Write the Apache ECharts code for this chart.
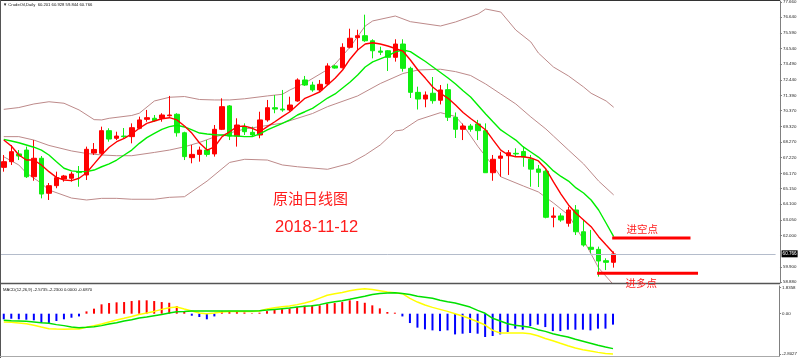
<!DOCTYPE html>
<html><head><meta charset="utf-8">
<script src="https://cdn.jsdelivr.net/npm/echarts@6/dist/echarts.min.js"></script>
<style>html,body{margin:0;padding:0;background:#fff;overflow:hidden}#c{width:800px;height:358px}</style>
</head><body><div id="c"></div>
<script>
const slotCount = 103;
const symbolTitle = '\u25BC CrudeOil,Daily  60.201 60.928 59.844 60.766';
const macdTitle = 'MACD(12,26,9) -2.5735 -2.2300 0.0000 -0.6870';
const chartTitle = '原油日线图';
const chartDate = '2018-11-12';

const opens = [66.57,66.95,67.47,67.73,65.94,67.18,64.83,65.34,65.79,65.84,
66.29,66.06,67.53,67.51,69.03,68.52,68.67,68.63,69.19,69.79,
69.86,69.86,70.03,70.13,68.89,67.22,67.44,67.73,67.47,69.12,
70.69,68.67,69.30,68.92,68.74,69.75,70.57,70.48,70.42,71.02,
72.43,72.09,71.76,72.16,73.37,73.25,74.62,75.27,75.40,75.06,
74.37,74.39,73.95,74.84,73.21,71.60,71.15,71.54,71.07,71.78,
69.93,69.12,69.34,69.48,69.03,66.21,67.18,67.35,67.51,67.63,
67.12,66.46,66.31,63.22,63.31,62.82,63.71,62.25,61.21,61.07,
60.31,60.201];
const closes = [66.95,67.62,67.33,65.94,67.18,64.78,65.34,65.88,65.99,66.12,
66.22,67.78,67.77,69.03,68.47,68.67,68.63,69.23,69.75,69.90,
69.70,70.08,70.08,68.89,67.29,67.44,67.73,67.44,69.12,70.64,
68.67,69.41,68.96,68.74,69.75,70.57,70.48,70.42,70.75,72.43,
72.09,71.76,72.14,73.37,73.23,74.62,75.23,75.40,75.06,74.39,
74.29,73.95,74.84,73.21,71.60,71.15,71.42,71.04,71.76,69.93,
69.12,69.34,69.12,69.03,66.21,67.11,67.33,67.55,67.47,67.26,
66.45,66.24,63.22,63.31,63.04,63.71,62.25,61.36,61.07,60.29,
60.20,60.766];
const lows = [66.28,66.73,67.06,65.86,65.67,64.49,64.38,65.17,65.61,65.61,
65.27,65.72,67.40,67.40,68.29,68.40,68.54,68.18,69.12,69.63,
69.63,69.63,69.97,68.63,67.06,66.84,66.95,67.29,67.29,69.07,
68.40,67.96,68.74,68.63,68.52,69.63,70.20,70.30,70.30,70.97,
72.03,71.64,71.64,72.09,73.19,73.21,74.55,74.44,74.99,73.88,
74.10,73.03,73.66,72.99,71.22,70.45,70.60,70.84,70.79,69.68,
68.54,68.40,68.96,68.40,66.19,65.67,65.94,66.06,67.29,66.61,
65.27,65.25,63.15,62.55,62.92,62.59,62.03,61.25,60.81,59.24,
59.68,59.844];
const highs = [67.40,68.07,67.73,67.96,68.40,67.33,65.52,66.28,66.06,66.28,
66.66,67.96,68.20,69.30,69.19,68.96,69.21,69.52,69.97,70.42,
70.08,70.20,71.36,70.20,68.96,68.07,67.96,68.40,69.41,71.20,
70.75,69.86,69.52,69.30,70.30,71.09,71.42,71.76,71.31,72.54,
72.70,72.31,72.43,73.55,73.43,74.89,75.87,75.80,76.81,75.16,
74.66,74.44,75.16,75.16,73.32,71.98,71.66,72.63,72.09,72.18,
70.25,69.51,69.48,69.75,69.52,67.40,67.62,67.73,67.85,67.96,
67.40,66.73,66.44,63.89,63.49,63.93,64.04,63.04,62.37,61.25,
60.47,60.928];

const maFast = [68.40,68.00,67.40,67.06,67.06,66.73,66.28,65.90,65.72,65.68,
65.84,66.21,66.80,67.40,67.92,68.29,68.52,68.81,69.19,69.52,
69.68,69.83,69.90,69.75,69.34,68.85,68.20,67.73,67.95,68.63,
68.96,69.30,69.34,69.19,68.96,69.30,69.63,69.97,70.30,70.75,
71.20,71.42,71.64,72.09,72.54,73.10,73.84,74.44,74.84,74.93,
74.84,74.71,74.54,74.37,73.77,73.10,72.54,71.94,71.54,71.20,
70.75,70.25,69.85,69.48,69.08,68.40,67.73,67.40,67.28,67.28,
67.20,67.00,66.46,65.59,64.78,64.05,63.49,63.04,62.59,61.92,
61.36,60.81];
const maSlow = [68.45,68.34,68.22,68.07,67.92,67.73,67.40,66.95,66.51,66.33,
66.28,66.28,66.39,66.61,66.80,67.06,67.40,67.73,68.18,68.56,
68.85,69.12,69.30,69.39,69.28,69.08,68.87,68.81,68.76,68.74,
68.69,68.67,68.63,68.63,68.81,69.08,69.30,69.52,69.75,70.08,
70.30,70.53,70.87,71.22,71.49,71.89,72.29,72.76,73.30,73.64,
73.84,74.04,74.31,74.44,74.33,74.00,73.67,73.30,72.93,72.56,
72.16,71.71,71.29,70.72,70.15,69.61,69.08,68.74,68.40,67.94,
67.60,67.26,66.83,66.33,65.96,65.65,65.19,64.85,64.38,63.71,
62.82,61.92];

const bbUpper = [[0,70.46],[2,70.58],[4,70.82],[6,70.97],[8,70.87],[10,70.42],[12,69.77],[13,69.75],
[14,69.86],[17,70.05],[18,70.20],[20,71.02],[22,71.27],[24,71.32],[26,71.12],[28,71.09],[30,71.09],
[32,71.17],[35,71.36],[37,71.47],[38,71.76],[40,72.23],[43,73.13],[44,73.50],[46,74.64],[48,76.05],
[49,76.39],[52,76.72],[54,76.34],[58,76.05],[60,76.32],[63,76.86],[64,77.19],[66,76.99],[68,75.78],
[70,74.98],[71,74.24],[73,73.30],[75,72.70],[77,71.96],[78,71.54],[80,71.02],[81,70.60]];
const bbMiddle = [[0,68.63],[2,68.63],[4,68.40],[6,68.04],[9,67.67],[11,67.50],[13,67.40],[15,67.35],
[17,67.35],[20,67.57],[22,67.73],[24,67.95],[26,68.24],[28,68.61],[32,69.14],[37,69.54],[41,70.18],
[43,70.64],[44,70.82],[47,71.36],[50,72.19],[53,72.86],[55,73.10],[58,73.15],[60,72.99],[62,72.73],
[64,72.16],[66,71.49],[68,70.82],[70,69.95],[72,69.14],[73,68.67],[75,67.73],[77,66.80],[79,65.65],[81,64.72]];
const bbLower = [[0,67.28],[2,66.73],[3,66.19],[5,65.50],[6,65.05],[9,64.51],[11,64.38],[13,64.49],
[15,64.49],[17,64.43],[20,64.43],[22,64.56],[24,64.60],[27,65.65],[30,66.90],[32,67.11],[35,67.06],
[37,66.73],[39,66.61],[43,66.44],[46,66.84],[48,67.40],[50,68.07],[52,69.01],[53,69.08],[55,69.75],
[58,70.24],[60,69.98],[61,69.41],[63,67.95],[65,66.66],[66,65.94],[69,65.32],[71,64.92],[73,64.18],
[75,63.37],[77,61.70],[79,59.82],[81,58.68]];

const macdHist = [-0.39,-0.35,-0.39,-0.42,-0.46,-0.65,-0.65,-0.51,-0.39,-0.28,
-0.19,0.16,0.35,0.65,0.74,0.79,0.81,0.88,0.93,0.93,
0.88,0.81,0.76,0.53,0.12,-0.14,-0.23,-0.39,-0.19,0.16,
0.12,0.12,0.09,0.03,0.07,0.18,0.28,0.32,0.37,0.46,
0.56,0.58,0.58,0.70,0.74,0.81,0.93,0.88,0.76,0.58,
0.37,0.12,0.07,-0.19,-0.65,-0.97,-1.09,-1.16,-1.21,-1.16,
-1.44,-1.39,-1.34,-1.39,-1.62,-1.55,-1.44,-1.27,-1.04,-1.11,
-0.86,-0.76,-0.93,-1.21,-1.21,-1.11,-1.11,-1.11,-1.16,-1.04,
-1.04,-0.76];
const macdMain = [-0.58,-0.60,-0.65,-0.70,-0.81,-0.93,-1.04,-1.07,-1.09,-1.07,
-1.07,-0.95,-0.83,-0.72,-0.58,-0.44,-0.32,-0.19,-0.05,0.05,
0.16,0.30,0.42,0.46,0.32,0.19,0.05,0.00,0.05,0.12,
0.16,0.16,0.16,0.16,0.19,0.32,0.42,0.49,0.53,0.63,
0.74,0.88,1.08,1.28,1.39,1.48,1.60,1.69,1.74,1.69,
1.60,1.51,1.46,1.39,1.07,0.81,0.60,0.44,0.30,0.16,
0.00,-0.16,-0.35,-0.56,-0.79,-1.16,-1.34,-1.34,-1.34,-1.34,
-1.39,-1.53,-1.72,-1.88,-2.06,-2.23,-2.39,-2.50,-2.60,-2.69,
-2.76,-2.80];
const macdSignal = [-0.46,-0.49,-0.51,-0.53,-0.58,-0.63,-0.67,-0.76,-0.83,-0.93,
-0.97,-0.95,-0.90,-0.83,-0.72,-0.63,-0.51,-0.42,-0.30,-0.23,
-0.14,-0.05,0.05,0.14,0.16,0.19,0.19,0.19,0.19,0.19,
0.19,0.19,0.19,0.19,0.21,0.25,0.30,0.35,0.39,0.46,
0.51,0.56,0.63,0.74,0.83,0.90,1.00,1.11,1.21,1.34,
1.41,1.44,1.46,1.41,1.34,1.21,1.14,1.07,0.93,0.83,
0.74,0.60,0.46,0.23,0.03,-0.32,-0.51,-0.70,-0.81,-0.88,
-0.95,-1.11,-1.23,-1.39,-1.51,-1.62,-1.78,-1.92,-2.06,-2.20,
-2.32,-2.43];

const priceTickLabels = ['77.660','76.640','75.590','74.540','73.490','72.440','71.390','70.370','69.320',
'68.270','67.220','66.170','65.150','64.100','63.050','62.000','59.900','58.880'];
const macdTickLabels = ['1.8358','0.00','-2.8027'];
const lastPrice = 60.766;
const shortEntry = { price: 61.83, from: 81, to: 91, label: '进空点' };
const longEntry = { price: 59.46, from: 79, to: 92, label: '进多点' };

const categories = Array.from({length: slotCount}, (_, i) => String(i));
const candles = opens.map((o, i) => [o, closes[i], lows[i], highs[i]]);
const priceTicks = priceTickLabels.map(Number);
const macdTicks = macdTickLabels.map(Number);
const fmt = (labels) => (v) => { const s = labels.find(t => Math.abs(Number(t) - v) < 1e-6); return s === undefined ? '' : s; };

const GL = -2.07, GW = 777.65;
const RED = '#ff0000', GREEN = '#00ee00', BAND = '#bd8a8a';
const axisGray = '#808080';

const chart = echarts.init(document.getElementById('c'), null, {renderer: 'canvas'});
chart.setOption({
  animation: false,
  backgroundColor: '#ffffff',
  grid: [
    {left: GL, width: GW, top: 1, height: 282},
    {left: GL, width: GW, top: 286, height: 70}
  ],
  xAxis: [
    {type: 'category', gridIndex: 0, data: categories, boundaryGap: true, show: false},
    {type: 'category', gridIndex: 1, data: categories, boundaryGap: true, show: false}
  ],
  yAxis: [
    {type: 'value', gridIndex: 0, position: 'right', offset: 4.4, min: 58.813, max: 77.727,
     splitLine: {show: false},
     axisLine: {show: true, lineStyle: {color: axisGray, width: 1}},
     axisTick: {show: true, length: 2, customValues: priceTicks, lineStyle: {color: axisGray}},
     axisLabel: {customValues: priceTicks, formatter: fmt(priceTickLabels), fontSize: 4.4,
                 color: '#222', margin: 3, fontFamily: 'Liberation Sans'}},
    {type: 'value', gridIndex: 1, position: 'right', offset: 4.4, min: -2.942, max: 1.926,
     splitLine: {show: false},
     axisLine: {show: true, lineStyle: {color: axisGray, width: 1}},
     axisTick: {show: true, length: 2, customValues: macdTicks, lineStyle: {color: axisGray}},
     axisLabel: {customValues: macdTicks, formatter: fmt(macdTickLabels), fontSize: 4.4,
                 color: '#222', margin: 3, fontFamily: 'Liberation Sans'}}
  ],
  series: [
    {type: 'line', xAxisIndex: 0, yAxisIndex: 0, data: bbUpper, showSymbol: false, smooth: false,
     lineStyle: {color: BAND, width: 1}, z: 1},
    {type: 'line', xAxisIndex: 0, yAxisIndex: 0, data: bbMiddle, showSymbol: false,
     lineStyle: {color: BAND, width: 1}, z: 1},
    {type: 'line', xAxisIndex: 0, yAxisIndex: 0, data: bbLower, showSymbol: false,
     lineStyle: {color: BAND, width: 1}, z: 1},
    {type: 'candlestick', xAxisIndex: 0, yAxisIndex: 0, data: candles, barWidth: 5, z: 2,
     itemStyle: {color: RED, color0: '#10ee10', borderColor: RED, borderColor0: '#10ee10', borderWidth: 1},
     markLine: {silent: true, symbol: ['none', 'none'], animation: false,
       data: [{yAxis: lastPrice}],
       lineStyle: {color: '#b4bccb', width: 1, type: 'solid'},
       label: {show: true, position: 'end', distance: 6, formatter: lastPrice.toFixed(3),
               backgroundColor: '#000', color: '#fff', fontSize: 4.6, padding: [1, 1, 1, 1],
               fontFamily: 'Liberation Sans'}}},
    {type: 'line', xAxisIndex: 0, yAxisIndex: 0, data: maSlow, showSymbol: false,
     lineStyle: {color: GREEN, width: 1.4}, z: 3},
    {type: 'line', xAxisIndex: 0, yAxisIndex: 0, data: maFast, showSymbol: false,
     lineStyle: {color: RED, width: 1.4}, z: 3},
    {type: 'line', xAxisIndex: 0, yAxisIndex: 0, showSymbol: false, z: 4,
     data: [[shortEntry.from, shortEntry.price], [shortEntry.to, shortEntry.price]],
     lineStyle: {color: RED, width: 3, cap: 'square'}},
    {type: 'line', xAxisIndex: 0, yAxisIndex: 0, showSymbol: false, z: 4, clip: false,
     data: [[longEntry.from, longEntry.price], [longEntry.to, longEntry.price]],
     lineStyle: {color: RED, width: 3, cap: 'square'}},
    {type: 'bar', xAxisIndex: 1, yAxisIndex: 1, data: macdHist, barWidth: 2,
     itemStyle: {color: (p) => p.value >= 0 ? '#ff0000' : '#0000ff'}, z: 1},
    {type: 'line', xAxisIndex: 1, yAxisIndex: 1, data: macdMain, showSymbol: false,
     lineStyle: {color: '#ffff00', width: 1.5}, z: 2},
    {type: 'line', xAxisIndex: 1, yAxisIndex: 1, data: macdSignal, showSymbol: false,
     lineStyle: {color: '#00e000', width: 1.5}, z: 3}
  ],
  graphic: [
    {type: 'line', shape: {x1: 0, y1: 0.5, x2: 780, y2: 0.5}, style: {stroke: '#333', lineWidth: 1.2}, z: 10},
    {type: 'line', shape: {x1: 0.5, y1: 0, x2: 0.5, y2: 358}, style: {stroke: '#555', lineWidth: 1}, z: 10},
    {type: 'line', shape: {x1: 0, y1: 283.5, x2: 780, y2: 283.5}, style: {stroke: '#555', lineWidth: 1.6}, z: 10},
    {type: 'line', shape: {x1: 0, y1: 356.5, x2: 780, y2: 356.5}, style: {stroke: '#aaa', lineWidth: 1}, z: 10},
    {type: 'text', x: 3, y: 4.5, z: 11, style: {text: symbolTitle, fontSize: 4.2, fill: '#111',
      fontFamily: 'Liberation Sans', verticalAlign: 'middle'}},
    {type: 'text', x: 3, y: 289.5, z: 11, style: {text: macdTitle, fontSize: 4.2, fill: '#111',
      fontFamily: 'Liberation Sans', verticalAlign: 'middle'}},
    {type: 'text', x: 273, y: 198.5, z: 11, style: {text: chartTitle, fontSize: 15, fill: '#ff1a1a',
      fontFamily: 'Noto Sans CJK SC', verticalAlign: 'middle'}},
    {type: 'text', x: 275, y: 227, z: 11, style: {text: chartDate, fontSize: 16.5, fill: '#ff1a1a',
      fontFamily: 'Liberation Sans', verticalAlign: 'middle'}},
    {type: 'text', x: 626.5, y: 229, z: 11, style: {text: shortEntry.label, fontSize: 10.5, fill: '#ff2020',
      fontFamily: 'Noto Sans CJK SC', verticalAlign: 'middle'}},
    {type: 'text', x: 625.5, y: 283.5, z: 11, style: {text: longEntry.label, fontSize: 10.5, fill: '#ff2020',
      fontFamily: 'Noto Sans CJK SC', verticalAlign: 'middle'}}
  ]
});
</script></body></html>
